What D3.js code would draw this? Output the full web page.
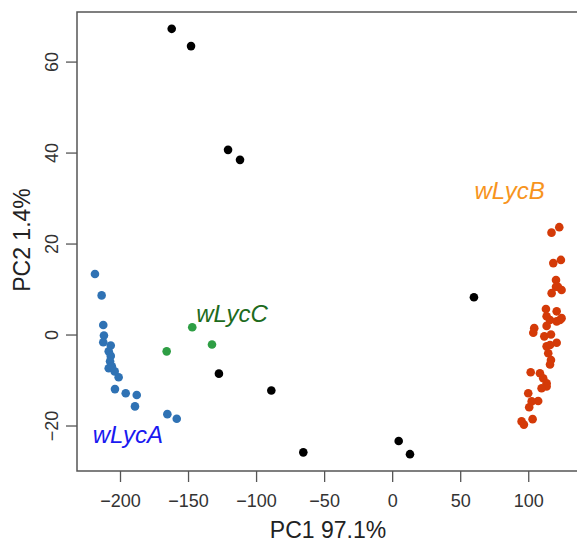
<!DOCTYPE html>
<html>
<head>
<meta charset="utf-8">
<script src="https://cdn.jsdelivr.net/npm/d3@7"></script>
<style>
  body { margin: 0; background: #fff; }
  svg { display: block; font-family: 'Liberation Sans', Arial, sans-serif; }
</style>
</head>
<body>
<div id="chart"></div>
<script>
// PCA scores [PC1, PC2] per group
const wLycA = [
    [-218.4, 13.3], [-213.5, 8.6], [-212.3, 2.1], [-211.8, -0.2], [-212.3, -1.7],
    [-206.8, -2.4], [-208.3, -3.7], [-206.8, -4.7], [-207.3, -5.9], [-208.3, -7.4],
    [-206.0, -7.0], [-203.9, -8.1], [-201.0, -9.4], [-203.7, -12.0], [-195.8, -12.9],
    [-187.7, -13.3], [-189.0, -15.8], [-165.2, -17.5], [-158.3, -18.5]
];
const wLycB = [
    [117.1, 22.4], [122.8, 23.6], [118.4, 15.7], [124.0, 16.4], [120.4, 12.0],
    [120.4, 10.5], [117.2, 9.1], [124.5, 9.8], [121.8, 10.5], [113.0, 5.6],
    [120.9, 5.1], [124.5, 3.6], [116.0, 3.2], [113.5, 4.0], [123.3, 3.2],
    [104.4, 1.4], [113.5, 1.9], [120.9, 2.9], [103.7, 0.4], [111.8, -0.4],
    [116.7, 0.0], [120.9, -1.8], [113.5, -2.6], [116.0, -2.3], [114.7, -4.1],
    [116.7, -5.6], [116.0, -6.6], [101.8, -8.3], [108.6, -8.5], [111.0, -9.6],
    [113.5, -10.7], [113.5, -11.4], [109.8, -11.8], [100.0, -12.9], [107.3, -14.6],
    [102.5, -14.7], [100.7, -16.0], [103.2, -18.6], [95.1, -19.1], [96.8, -19.8]
];
const wLycC = [[-146.9, 1.6], [-132.4, -2.2], [-165.7, -3.7]];
const others = [
    [-162.0, 67.2], [-147.8, 63.4], [-120.6, 40.6], [-111.8, 38.4], [-127.3, -8.6],
    [-88.8, -12.3], [60.1, 8.2], [-65.3, -25.9], [4.8, -23.4], [13.1, -26.3]
];
const xTicks = [-200, -150, -100, -50, 0, 50, 100];
const yTicks = [-20, 0, 20, 40, 60];
const groupLabels = [
    { text: 'wLycA', x: -220, y: -23.9, color: '#1a1af0' },
    { text: 'wLycB', x: 60.5, y: 29.8, color: '#f7941d' },
    { text: 'wLycC', x: -144, y: 2.8, color: '#1d6b1d' }
];

const width = 577, height = 543;
const margin = { top: 12, left: 77, right: -2, bottom: 72 };

const x = d3.scaleLinear()
    .domain([-231.6, 137.3])
    .range([margin.left, width - margin.right]);
const y = d3.scaleLinear()
    .domain([-30, 70.9])
    .range([height - margin.bottom, margin.top]);

const svg = d3.select('#chart')
    .append('svg')
    .attr('width', width)
    .attr('height', height);

// points, black first then coloured groups
const groups = [
    { data: others, fill: '#000000' },
    { data: wLycA, fill: '#2f72b4' },
    { data: wLycC, fill: '#2e9e44' },
    { data: wLycB, fill: '#d43a08' }
];
groups.forEach((g) => {
    svg.append('g')
        .selectAll('circle')
        .data(g.data)
        .enter()
        .append('circle')
        .attr('cx', d => x(d[0]))
        .attr('cy', d => y(d[1]))
        .attr('r', 4.3)
        .attr('fill', g.fill);
});

// box
svg.append('rect')
    .attr('x', x.range()[0])
    .attr('y', y.range()[1])
    .attr('width', x.range()[1] - x.range()[0])
    .attr('height', y.range()[0] - y.range()[1])
    .attr('fill', 'none')
    .attr('stroke', '#555')
    .attr('stroke-width', 1.5);

// x axis
const xAxis = svg.append('g')
    .attr('transform', `translate(0, ${y.range()[0]})`)
    .call(d3.axisBottom(x).tickValues(xTicks).tickSize(11).tickPadding(12).tickFormat(d3.format('d')));
xAxis.select('.domain').remove();
xAxis.selectAll('line').attr('stroke', '#555').attr('stroke-width', 1.3);
xAxis.selectAll('text')
    .attr('font-size', 18)
    .attr('fill', '#333')
    .style('font-family', "'Liberation Sans', Arial, sans-serif");

// y axis, labels rotated like R
const yAxis = svg.append('g')
    .attr('transform', `translate(${x.range()[0]}, 0)`)
    .call(d3.axisLeft(y).tickValues(yTicks).tickSize(11).tickFormat(d3.format('d')));
yAxis.select('.domain').remove();
yAxis.selectAll('line').attr('stroke', '#555').attr('stroke-width', 1.3);
yAxis.selectAll('text')
    .attr('x', null)
    .attr('dy', null)
    .attr('text-anchor', 'middle')
    .attr('transform', 'translate(-25, 0) rotate(-90) translate(0, 6)')
    .attr('font-size', 18)
    .attr('fill', '#333')
    .style('font-family', "'Liberation Sans', Arial, sans-serif");

// axis titles
svg.append('text')
    .attr('x', 328)
    .attr('y', 538)
    .attr('text-anchor', 'middle')
    .attr('font-size', 23)
    .attr('fill', '#222')
    .text('PC1 97.1%');

svg.append('text')
    .attr('transform', `translate(30, 240) rotate(-90)`)
    .attr('text-anchor', 'middle')
    .attr('font-size', 23)
    .attr('fill', '#222')
    .text('PC2 1.4%');

// group labels
svg.append('g')
    .selectAll('text')
    .data(groupLabels)
    .enter()
    .append('text')
    .attr('x', d => x(d.x))
    .attr('y', d => y(d.y))
    .attr('font-size', 24)
    .attr('font-style', 'italic')
    .attr('fill', d => d.color)
    .text(d => d.text);
</script>
</body>
</html>
